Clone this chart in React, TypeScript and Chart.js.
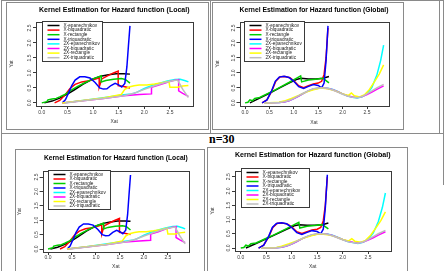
import React, { useEffect, useRef } from "react";
import { Chart, registerables } from "chart.js";

Chart.register(...registerables);

// Kernel names and their R-style colours (legend order = drawing order)
const kernelLabels = [
  "X-epanechnikov",
  "X-biquadratic",
  "X-rectangle",
  "X-triquadratic",
  "2X-epanechnikov",
  "2X-biquadratic",
  "2X-rectangle",
  "2X-triquadratic",
];
const kernelColors = ["#000000", "#ff0000", "#00cd00", "#0000ff", "#00ffff", "#ff00ff", "#ffff00", "#bebebe"];

const xTickValues = [0, 0.5, 1, 1.5, 2, 2.5];
const yTickValues = [0, 0.5, 1, 1.5, 2, 2.5];

type Pt = [number, number];

// ---- Local bandwidth estimates ----
const localEpa: Pt[] = [[0.05, 0], [0.2, 0.06], [0.35, 0.16], [0.5, 0.29], [0.63, 0.43], [0.8, 0.62], [1.0, 0.8], [1.15, 0.89], [1.3, 0.94], [1.45, 0.97], [1.6, 0.97], [1.72, 0.96]];
const localBiq: Pt[] = [[0.25, 0], [0.35, 0.08], [0.45, 0.26], [0.55, 0.48], [0.65, 0.62], [0.78, 0.7], [0.92, 0.74], [1.05, 0.8], [1.12, 0.84], [1.12, 0.53], [1.17, 0.8], [1.3, 0.92], [1.4, 1.0], [1.49, 1.06], [1.49, 0.58], [1.6, 0.55], [1.72, 0.5]];
const localRect: Pt[] = [[0, 0], [0.1, 0.04], [0.12, 0.1], [0.2, 0.13], [0.28, 0.15], [0.35, 0.2], [0.45, 0.28], [0.55, 0.4], [0.7, 0.55], [0.85, 0.68], [1.0, 0.8], [1.16, 0.9], [1.16, 0.7], [1.25, 0.75], [1.4, 0.79], [1.55, 0.81], [1.63, 0.78], [1.72, 0.66]];
const localTriq: Pt[] = [[0.4, 0], [0.46, 0.1], [0.52, 0.32], [0.58, 0.56], [0.65, 0.76], [0.74, 0.87], [0.84, 0.87], [0.94, 0.83], [1.04, 0.68], [1.13, 0.5], [1.2, 0.46], [1.27, 0.47], [1.35, 0.58], [1.43, 0.65], [1.5, 0.6], [1.56, 0.53], [1.62, 0.65], [1.66, 1.2], [1.69, 1.9], [1.72, 2.57]];
const local2Epa: Pt[] = [[0.4, 0], [0.8, 0.08], [1.2, 0.17], [1.6, 0.27], [1.75, 0.3], [1.85, 0.35], [2.0, 0.48], [2.15, 0.58], [2.3, 0.66], [2.45, 0.73], [2.6, 0.78], [2.7, 0.79], [2.8, 0.74], [2.86, 0.7]];
const local2Biq: Pt[] = [[0.4, 0], [0.8, 0.07], [1.2, 0.15], [1.6, 0.24], [1.9, 0.28], [2.14, 0.3], [2.14, 0.52], [2.3, 0.6], [2.45, 0.69], [2.6, 0.76], [2.67, 0.78], [2.67, 0.4], [2.75, 0.32], [2.86, 0.22]];
const local2Rect: Pt[] = [[0.4, 0], [0.8, 0.08], [1.2, 0.16], [1.55, 0.28], [1.62, 0.45], [1.7, 0.53], [1.8, 0.57], [1.9, 0.6], [2.05, 0.6], [2.2, 0.63], [2.35, 0.67], [2.48, 0.72], [2.5, 0.52], [2.65, 0.52], [2.75, 0.56], [2.86, 0.58]];
const local2Triq: Pt[] = [[0.45, 0], [0.8, 0.07], [1.2, 0.15], [1.6, 0.24], [1.8, 0.32], [2.0, 0.45], [2.2, 0.57], [2.4, 0.68], [2.55, 0.74], [2.65, 0.76], [2.75, 0.45], [2.86, 0.18]];

// ---- Global bandwidth estimates ----
const globalEpa: Pt[] = [[0.1, 0], [0.3, 0.16], [0.5, 0.32], [0.7, 0.49], [0.9, 0.66], [1.05, 0.78], [1.15, 0.82], [1.3, 0.8], [1.45, 0.8], [1.6, 0.82], [1.72, 0.88]];
const globalBiq: Pt[] = [[0.35, 0], [0.45, 0.1], [0.55, 0.4], [0.63, 0.72], [0.72, 0.87], [0.82, 0.88], [0.92, 0.84], [1.0, 0.74], [1.1, 0.57], [1.2, 0.51], [1.3, 0.57], [1.4, 0.63], [1.5, 0.66], [1.57, 0.72], [1.62, 0.95], [1.66, 1.5], [1.7, 2.5]];
const globalRect: Pt[] = [[0, 0], [0.06, 0.02], [0.1, 0.1], [0.15, 0.07], [0.2, 0.15], [0.3, 0.18], [0.45, 0.3], [0.6, 0.42], [0.75, 0.55], [0.9, 0.68], [1.05, 0.82], [1.14, 0.9], [1.16, 0.7], [1.3, 0.76], [1.45, 0.79], [1.6, 0.82], [1.72, 0.67]];
const globalTriq: Pt[] = [[0.35, 0], [0.45, 0.1], [0.55, 0.42], [0.62, 0.72], [0.7, 0.86], [0.8, 0.89], [0.9, 0.85], [1.0, 0.72], [1.1, 0.54], [1.2, 0.48], [1.3, 0.55], [1.4, 0.61], [1.5, 0.58], [1.57, 0.5], [1.62, 0.66], [1.66, 1.4], [1.7, 2.57]];
const global2Epa: Pt[] = [[0.4, 0], [0.7, 0.01], [0.8, 0.03], [0.9, 0.07], [1.0, 0.14], [1.1, 0.23], [1.2, 0.32], [1.3, 0.4], [1.4, 0.46], [1.5, 0.49], [1.6, 0.5], [1.7, 0.49], [1.8, 0.45], [1.9, 0.38], [2.0, 0.3], [2.1, 0.23], [2.2, 0.19], [2.3, 0.16], [2.4, 0.2], [2.5, 0.3], [2.6, 0.52], [2.7, 0.92], [2.78, 1.42], [2.84, 1.93]];
const global2Biq: Pt[] = [[0.4, 0], [0.7, 0.01], [0.8, 0.03], [0.9, 0.07], [1.0, 0.14], [1.1, 0.23], [1.2, 0.32], [1.3, 0.4], [1.4, 0.46], [1.5, 0.49], [1.6, 0.5], [1.7, 0.48], [1.8, 0.44], [1.9, 0.37], [2.0, 0.3], [2.1, 0.24], [2.2, 0.2], [2.3, 0.18], [2.4, 0.21], [2.5, 0.28], [2.6, 0.36], [2.7, 0.45], [2.84, 0.57]];
const global2Rect: Pt[] = [[0.4, 0], [0.7, 0.02], [0.8, 0.06], [0.95, 0.15], [1.1, 0.25], [1.25, 0.36], [1.4, 0.44], [1.55, 0.5], [1.7, 0.47], [1.85, 0.4], [2.0, 0.3], [2.12, 0.25], [2.18, 0.33], [2.24, 0.24], [2.35, 0.2], [2.45, 0.27], [2.55, 0.45], [2.65, 0.7], [2.75, 0.96], [2.84, 1.27]];
const global2Triq: Pt[] = [[0.4, 0], [0.7, 0.01], [0.8, 0.04], [0.9, 0.08], [1.0, 0.15], [1.1, 0.24], [1.2, 0.33], [1.3, 0.41], [1.4, 0.47], [1.5, 0.5], [1.6, 0.5], [1.7, 0.48], [1.8, 0.43], [1.9, 0.36], [2.0, 0.29], [2.1, 0.23], [2.2, 0.19], [2.3, 0.17], [2.4, 0.21], [2.5, 0.3], [2.6, 0.4], [2.7, 0.5], [2.84, 0.62]];

const localSeries = [localEpa, localBiq, localRect, localTriq, local2Epa, local2Biq, local2Rect, local2Triq];
const globalSeries = [globalEpa, globalBiq, globalRect, globalTriq, global2Epa, global2Biq, global2Rect, global2Triq];

const FONT = "'Liberation Sans', Arial, Helvetica, sans-serif";
const AXIS_COLOR = "#3a3a3a";
const FRAME_COLOR = "#8a8a8a";
const LINE_WIDTH = 1.5;

// R-style closed box around the plotting region
const plotBoxPlugin = {
  id: "plotBox",
  afterDraw(chart: any) {
    const { ctx, chartArea: a } = chart;
    ctx.save();
    ctx.strokeStyle = AXIS_COLOR;
    ctx.lineWidth = 1;
    const l = Math.round(a.left) + 0.5;
    const t = Math.round(a.top) + 0.5;
    const r = Math.round(a.right) + 0.5;
    const b = Math.round(a.bottom) + 0.5;
    ctx.strokeRect(l, t, r - l, b - t);
    ctx.restore();
  },
};

// y tick labels written parallel to the axis, as R does by default
const yTickLabelPlugin = {
  id: "yTickLabels",
  afterDraw(chart: any, _args: any, opts: any) {
    const { ctx, chartArea } = chart;
    const ys = chart.scales.y;
    ctx.save();
    ctx.fillStyle = AXIS_COLOR;
    ctx.font = `${opts.size}px ${FONT}`;
    ctx.textAlign = "center";
    ctx.textBaseline = "middle";
    for (const t of ys.ticks) {
      const py = ys.getPixelForValue(t.value);
      ctx.save();
      ctx.translate(chartArea.left - opts.offset, py);
      ctx.rotate(-Math.PI / 2);
      ctx.fillText(Number(t.value).toFixed(1), 0, 0);
      ctx.restore();
    }
    ctx.restore();
  },
};

// Boxed legend placed in the top-left corner of the plotting region
const insetLegendPlugin = {
  id: "insetLegend",
  afterDraw(chart: any, _args: any, opts: any) {
    const { ctx, chartArea } = chart;
    const x0 = Math.round(chartArea.left + opts.dx) + 0.5;
    const y0 = Math.round(chartArea.top + opts.dy) + 0.5;
    ctx.save();
    ctx.fillStyle = "#ffffff";
    ctx.fillRect(x0, y0, opts.w, opts.h);
    ctx.strokeStyle = AXIS_COLOR;
    ctx.lineWidth = 1;
    ctx.strokeRect(x0, y0, opts.w, opts.h);
    ctx.font = `${opts.size}px ${FONT}`;
    ctx.textBaseline = "middle";
    ctx.textAlign = "left";
    chart.data.datasets.forEach((ds: any, i: number) => {
      const cy = y0 + opts.first + i * opts.step;
      ctx.strokeStyle = ds.borderColor;
      ctx.lineWidth = LINE_WIDTH;
      ctx.beginPath();
      ctx.moveTo(x0 + 5, cy);
      ctx.lineTo(x0 + 17, cy);
      ctx.stroke();
      ctx.fillStyle = "#222";
      ctx.fillText(ds.label, x0 + 21, cy);
    });
    ctx.restore();
  },
};

type PanelCfg = {
  title: string;
  series: Pt[][];
  x: number;
  y: number;
  w: number;
  h: number;
  yW: number;
  xH: number;
  padRight: number;
  titleSize: number;
  titlePadTop: number;
  titlePadBottom: number;
  xTickPad: number;
  xTitlePad: number;
  yTitlePad: number;
  legend: { dx: number; dy: number; w: number; h: number; first: number; step: number; size: number };
};

function HazardPanel({ cfg }: { cfg: PanelCfg }) {
  const ref = useRef<HTMLCanvasElement>(null);

  useEffect(() => {
    const tickFont = { family: FONT, size: 5 };
    const n = kernelLabels.length;
    const chart = new Chart(ref.current as HTMLCanvasElement, {
      type: "scatter",
      data: {
        datasets: cfg.series.map((pts, i) => ({
          label: kernelLabels[i],
          data: pts.map(([x, y]) => ({ x, y })),
          showLine: true,
          borderColor: kernelColors[i],
          backgroundColor: kernelColors[i],
          borderWidth: LINE_WIDTH,
          pointRadius: 0,
          tension: 0,
          order: n - i,
        })),
      },
      options: {
        animation: false,
        responsive: false,
        maintainAspectRatio: false,
        events: [],
        layout: { padding: { left: 0, right: cfg.padRight, top: 0, bottom: 0 } },
        plugins: {
          legend: { display: false },
          tooltip: { enabled: false },
          title: {
            display: true,
            text: cfg.title,
            fullSize: false,
            color: "#000",
            font: { family: FONT, size: cfg.titleSize, weight: "bold" },
            padding: { top: cfg.titlePadTop, bottom: cfg.titlePadBottom },
          },
          yTickLabels: { size: 5, offset: 6 },
          insetLegend: cfg.legend,
        } as any,
        scales: {
          x: {
            type: "linear",
            min: -0.113,
            max: 2.94,
            afterBuildTicks: (s: any) => {
              s.ticks = xTickValues.map((v) => ({ value: v }));
            },
            afterFit: (s: any) => {
              s.height = cfg.xH;
            },
            ticks: {
              font: tickFont,
              color: AXIS_COLOR,
              padding: cfg.xTickPad,
              autoSkip: false,
              maxRotation: 0,
              callback: (v: any) => Number(v).toFixed(1),
            },
            grid: { drawOnChartArea: false, drawTicks: true, tickLength: 3, color: AXIS_COLOR },
            border: { display: false },
            title: {
              display: true,
              text: "Xat",
              color: AXIS_COLOR,
              font: { family: FONT, size: 5 },
              padding: { top: 0, bottom: cfg.xTitlePad },
            },
          },
          y: {
            type: "linear",
            min: -0.104,
            max: 2.7,
            afterBuildTicks: (s: any) => {
              s.ticks = yTickValues.map((v) => ({ value: v }));
            },
            afterFit: (s: any) => {
              s.width = cfg.yW;
            },
            ticks: { display: false },
            grid: { drawOnChartArea: false, drawTicks: true, tickLength: 3, color: AXIS_COLOR },
            border: { display: false },
            title: {
              display: true,
              text: "Yat",
              color: AXIS_COLOR,
              font: { family: FONT, size: 5 },
              padding: { top: cfg.yTitlePad, bottom: 0 },
            },
          },
        },
      },
      plugins: [plotBoxPlugin, yTickLabelPlugin, insetLegendPlugin],
    } as any);
    return () => chart.destroy();
  }, [cfg]);

  return (
    <canvas
      ref={ref}
      width={cfg.w}
      height={cfg.h}
      style={{ position: "absolute", left: cfg.x, top: cfg.y, width: cfg.w, height: cfg.h }}
    />
  );
}

const titleLocal = "Kernel Estimation for Hazard function (Local)";
const titleGlobal = "Kernel Estimation for Hazard function (Global)";

const panels: PanelCfg[] = [
  {
    title: titleLocal, series: localSeries,
    x: 7, y: 3, w: 201, h: 126, yW: 29, xH: 23, padRight: 15.5,
    titleSize: 7, titlePadTop: 2.8, titlePadBottom: 7.8,
    xTickPad: 0.5, xTitlePad: 4, yTitlePad: 2,
    legend: { dx: 6, dy: -1, w: 60, h: 40, first: 4, step: 4.6, size: 4.7 },
  },
  {
    title: titleGlobal, series: globalSeries,
    x: 214, y: 3, w: 189, h: 126, yW: 25.5, xH: 23, padRight: 14.5,
    titleSize: 6.9, titlePadTop: 2.8, titlePadBottom: 7.9,
    xTickPad: 0.5, xTitlePad: 3, yTitlePad: 1,
    legend: { dx: 4.5, dy: -1, w: 60, h: 40, first: 4, step: 4.6, size: 4.7 },
  },
  {
    title: titleLocal, series: localSeries,
    x: 16, y: 150, w: 188, h: 121, yW: 26.6, xH: 19, padRight: 15,
    titleSize: 6.7, titlePadTop: 4, titlePadBottom: 9.2,
    xTickPad: 0, xTitlePad: 1, yTitlePad: 1,
    legend: { dx: 5.4, dy: -1, w: 62, h: 39, first: 4, step: 4.5, size: 4.7 },
  },
  {
    title: titleGlobal, series: globalSeries,
    x: 208, y: 148, w: 199, h: 123, yW: 27, xH: 20, padRight: 16.5,
    titleSize: 7.2, titlePadTop: 2.7, titlePadBottom: 11.7,
    xTickPad: 1, xTitlePad: 1, yTitlePad: 2,
    legend: { dx: 6, dy: -3, w: 68, h: 39, first: 4, step: 4.5, size: 4.9 },
  },
];

function HLine({ x, y, w }: { x: number; y: number; w: number }) {
  return <div style={{ position: "absolute", left: x, top: y, width: w, height: 1, background: FRAME_COLOR }} />;
}
function VLine({ x, y, h }: { x: number; y: number; h: number }) {
  return <div style={{ position: "absolute", left: x, top: y, width: 1, height: h, background: FRAME_COLOR }} />;
}
function Frame({ x, y, w, h }: { x: number; y: number; w: number; h: number }) {
  return (
    <div
      style={{
        position: "absolute",
        left: x,
        top: y,
        width: w,
        height: h,
        boxSizing: "border-box",
        border: `1px solid ${FRAME_COLOR}`,
      }}
    />
  );
}

export default function App() {
  return (
    <div
      style={{
        position: "absolute",
        left: 0,
        top: 0,
        width: 447,
        height: 271,
        overflow: "hidden",
        background: "#ffffff",
      }}
    >
      {/* table rules */}
      <HLine x={1} y={0} w={443} />
      <VLine x={1} y={0} h={271} />
      <HLine x={1} y={133} w={443} />
      <VLine x={210} y={0} h={133} />
      <VLine x={439} y={0} h={133} />
      <VLine x={443} y={0} h={185} />

      {/* picture frames */}
      <Frame x={6} y={2} w={203} h={128} />
      <Frame x={212} y={2} w={192} h={128} />
      <Frame x={15} y={149} w={190} h={140} />
      <Frame x={207} y={147} w={201} h={140} />

      {panels.map((p, i) => (
        <HazardPanel key={i} cfg={p} />
      ))}

      <div
        style={{
          position: "absolute",
          left: 209,
          top: 133,
          fontFamily: "'Liberation Serif', 'Times New Roman', serif",
          fontWeight: "bold",
          fontSize: 12,
          lineHeight: "12px",
          color: "#000",
          whiteSpace: "nowrap",
        }}
      >
        n=30
      </div>
    </div>
  );
}
